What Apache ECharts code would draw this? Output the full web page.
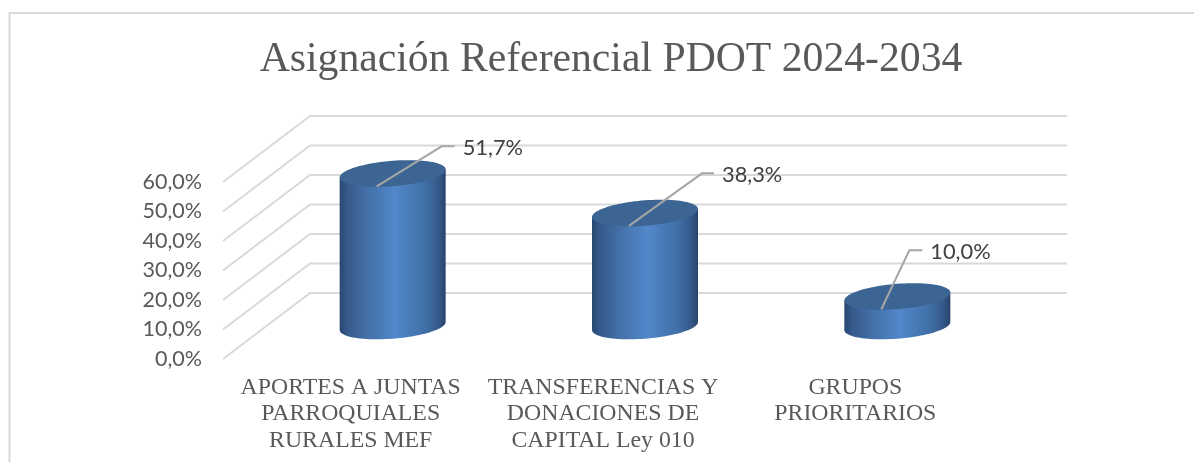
<!DOCTYPE html>
<html><head><meta charset="utf-8">
<style>html,body{margin:0;padding:0;background:#fff}#c{width:1194px;height:462px}</style>
<script src="https://cdn.jsdelivr.net/npm/echarts@6/dist/echarts.min.js"></script>
</head><body><div id="c"></div>
<script>
const titleText = 'Asignación Referencial PDOT 2024-2034';
const categories = ['APORTES A JUNTAS\nPARROQUIALES\nRURALES MEF','TRANSFERENCIAS Y\nDONACIONES DE\nCAPITAL Ley 010','GRUPOS\nPRIORITARIOS'];
const values = [51.7, 38.3, 10.0];
const yTicks = [0,10,20,30,40,50,60];

// layout constants (pixels)
const depthX = 87, depthY = 66, halfW = 53, ellB = 12.7, ellC = 4;
const leaders = [[65,-40,78],[73,-52.5,85],[28,-59,41]];
const serif = '"Liberation Serif"', sans = 'Lato';
const fmt = v => v.toFixed(1).replace('.',',') + '%';

const chart = echarts.init(document.getElementById('c'), null, {renderer:'canvas'});

function ell(cx, cy, from, to, n){
  const pts = [];
  for(let i=0;i<=n;i++){
    const t = from + (to-from)*i/n;
    pts.push([cx + halfW*Math.cos(t), cy - ellC*Math.cos(t) + ellB*Math.sin(t)]);
  }
  return pts;
}

function renderGrid(params, api){
  const cs = params.coordSys;
  const y = api.coord([0, api.value(0)])[1];
  return {type:'polyline', silent:true,
    shape:{points:[[cs.x,y],[cs.x+depthX,y-depthY],[cs.x+cs.width+depthX,y-depthY]]},
    style:{fill:null, stroke:'#d9d9d9', lineWidth:2}};
}

function renderCyl(params, api){
  const i = api.value(0), v = api.value(1);
  const base = api.coord([i,0]), top = api.coord([i,v]);
  const cx = base[0]+depthX/2, by = base[1]-depthY/2, ty = top[1]-depthY/2;
  const bottomArc = ell(cx, by, 0, Math.PI, 48);
  const side = bottomArc.concat([[cx-halfW, ty+ellC],[cx+halfW, ty-ellC]]);
  const face = ell(cx, ty, 0, Math.PI*2, 96);
  const sx = cx-16, sy = ty+12.8;
  const L = leaders[i];
  const ex = sx+L[0], ey = sy+L[1];
  return {type:'group', children:[
    {type:'polygon', shape:{points:side}, style:{fill:new echarts.graphic.LinearGradient(0,0,1,0,[
      {offset:0,color:'#284670'},{offset:.07,color:'#35598a'},{offset:.25,color:'#426fa6'},
      {offset:.52,color:'#5287ca'},{offset:.8,color:'#4170a8'},{offset:.93,color:'#355a8a'},{offset:1,color:'#28446a'}])}},
    {type:'polygon', shape:{points:face}, style:{fill:'#3c6594'}},
    {type:'polyline', shape:{points:[[sx,sy],[ex,ey],[sx+L[2],ey]]}, style:{fill:null, stroke:'#a6a6a6', lineWidth:2}},
    {type:'text', style:{x:sx+L[2]+8, y:ey+2, text:fmt(v), fill:'#404040', font:'21.8px '+sans, textAlign:'left', textVerticalAlign:'middle'}}
  ]};
}

chart.setOption({
  animation:false,
  backgroundColor:'#fff',
  title:{text:titleText, left:606, top:34, textAlign:'center',
    textStyle:{fontFamily:serif, fontWeight:'normal', fontSize:41.7, color:'#595959'}},
  grid:{left:223, top:182, width:757, height:177},
  xAxis:{type:'category', data:categories, axisLine:{show:false}, axisTick:{show:false}, splitLine:{show:false},
    axisLabel:{interval:0, margin:15, hideOverlap:false, fontFamily:serif, fontSize:23.8, color:'#595959', lineHeight:26.5, padding:[0,0,0,3]}},
  yAxis:{type:'value', min:0, max:60, interval:10, axisLine:{show:false}, axisTick:{show:false}, splitLine:{show:false},
    axisLabel:{margin:21, formatter:fmt, fontFamily:sans, fontSize:21.5, color:'#595959', padding:[5,0,0,0]}},
  graphic:[{type:'polyline', silent:true, shape:{points:[[9.5,462],[9.5,13],[1194,13]]}, style:{fill:null, stroke:'#d9d9d9', lineWidth:2}}],
  series:[
    {type:'custom', renderItem:renderGrid, data:yTicks.map(v=>[v]), encode:{y:0}, silent:true, clip:false, z:1},
    {type:'custom', renderItem:renderCyl, data:values.map((v,i)=>[i,v]), encode:{x:0,y:1}, silent:true, clip:false, z:2}
  ]
});
</script></body></html>
